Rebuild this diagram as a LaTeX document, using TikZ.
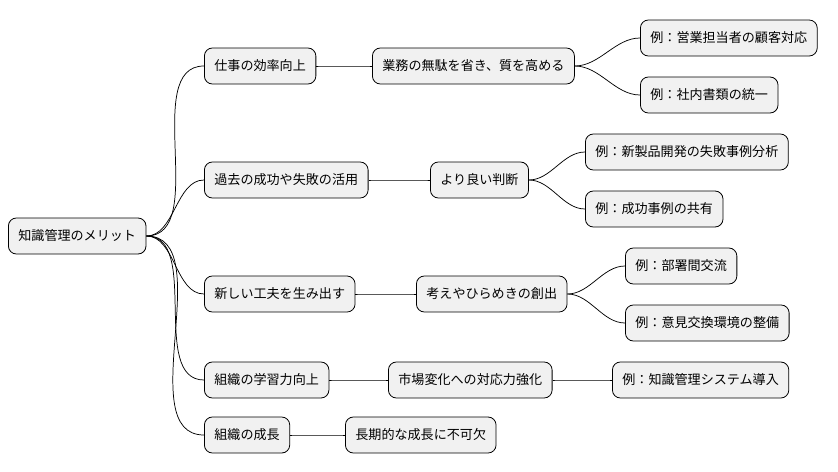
\documentclass[tikz,border=0pt]{standalone}
\usepackage{fontspec}
\setmainfont{Noto Sans CJK JP}
\begin{document}
\begin{tikzpicture}[x=0.75pt,y=-0.75pt,
  box/.style={draw=black,fill=black!5.5,rounded corners=6pt,line width=0.6pt,
    font=\fontsize{9.8pt}{12pt}\selectfont,inner xsep=7.5pt,minimum height=27pt,anchor=west},
  link/.style={line width=0.55pt,out=0,in=180,looseness=0.9}]
\useasboundingbox (0,0) rectangle (838,471);
\node[box] (r) at (8,236) {知識管理のメリット};
\node[box] (a) at (204,66) {仕事の効率向上};
\node[box] (b) at (204,180) {過去の成功や失敗の活用};
\node[box] (c) at (204,294) {新しい工夫を生み出す};
\node[box] (d) at (204,380) {組織の学習力向上};
\node[box] (e) at (204,435) {組織の成長};
\node[box] (a1) at (372,66) {業務の無駄を省き、質を高める};
\node[box] (b1) at (430,180) {より良い判断};
\node[box] (c1) at (416,294) {考えやひらめきの創出};
\node[box] (d1) at (388,380) {市場変化への対応力強化};
\node[box] (e1) at (345,435) {長期的な成長に不可欠};
\node[box] (a11) at (640,38) {例：営業担当者の顧客対応};
\node[box] (a12) at (640,95) {例：社内書類の統一};
\node[box] (b11) at (585,152) {例：新製品開発の失敗事例分析};
\node[box] (b12) at (585,209) {例：成功事例の共有};
\node[box] (c11) at (625,266) {例：部署間交流};
\node[box] (c12) at (625,323) {例：意見交換環境の整備};
\node[box] (d11) at (612,380) {例：知識管理システム導入};
\foreach \p/\c in {r/a,r/b,r/c,r/d,r/e,a/a1,b/b1,c/c1,d/d1,e/e1,a1/a11,a1/a12,b1/b11,b1/b12,c1/c11,c1/c12,d1/d11}
  \draw[link] (\p.east) to (\c.west);
\end{tikzpicture}
\end{document}
